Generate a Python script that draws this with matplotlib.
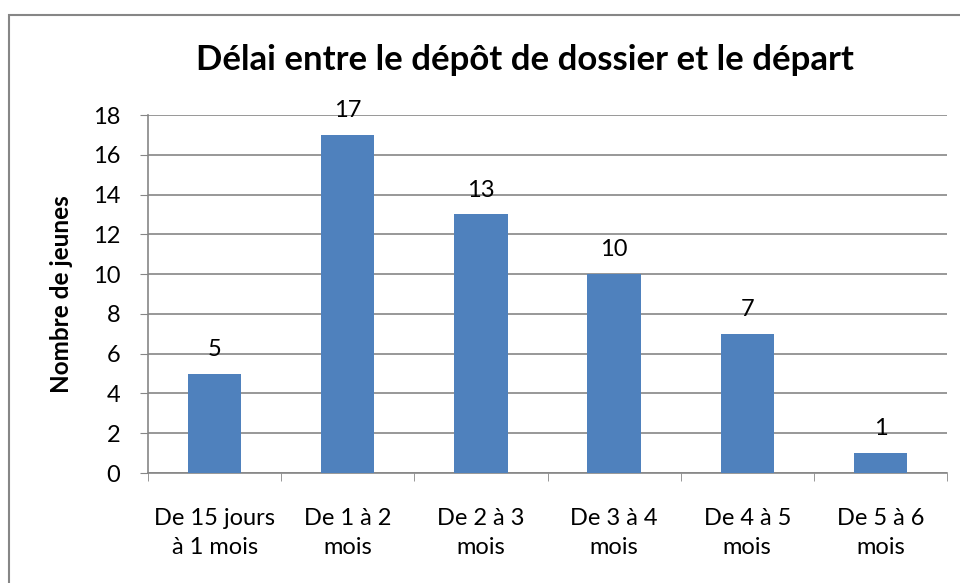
import numpy as np
import matplotlib.pyplot as plt
from matplotlib.patches import Rectangle

categories = ["De 15 jours\nà 1 mois", "De 1 à 2\nmois", "De 2 à 3\nmois",
              "De 3 à 4\nmois", "De 4 à 5\nmois", "De 5 à 6\nmois"]
values = [5, 17, 13, 10, 7, 1]
yticks = [0, 2, 4, 6, 8, 10, 12, 14, 16, 18]

plt.rcParams['font.family'] = ['Lato', 'DejaVu Sans']
bar_color = '#4F81BD'
grid_color = '#868686'

fig = plt.figure(figsize=(9.6, 5.83), dpi=100)
# chart frame (right and bottom edges fall outside the picture)
fig.patches.append(Rectangle((9 / 960, -0.05), 1.0, 1.05 - 15 / 583,
                             transform=fig.transFigure, fill=False,
                             edgecolor=grid_color, linewidth=1.5))

ax = fig.add_axes([148 / 960, 110 / 583, 799 / 960, 358 / 583])
x = np.arange(len(values))
ax.bar(x, values, width=0.4, color=bar_color, zorder=3)
for xi, v in zip(x, values):
    ax.annotate(str(v), (xi, v), xytext=(0, 10), textcoords='offset points',
                ha='center', va='bottom', fontsize=17)

ax.set_xlim(-0.5, len(values) - 0.5)
ax.set_ylim(0, 18)
ax.set_yticks(yticks)
ax.tick_params(axis='y', labelsize=17, length=6, color=grid_color, pad=14)
ax.yaxis.grid(True, color=grid_color, linewidth=1.2, zorder=0)

ax.set_xticks(x)
ax.set_xticklabels(categories, fontsize=17, linespacing=1.5)
ax.tick_params(axis='x', length=0, pad=25)
ax.set_xticks(np.arange(len(values) + 1) - 0.5, minor=True)
ax.tick_params(axis='x', which='minor', length=6, color=grid_color)

for s in ['top', 'right']:
    ax.spines[s].set_visible(False)
for s in ['left', 'bottom']:
    ax.spines[s].set_color(grid_color)
    ax.spines[s].set_linewidth(1.2)

ax.set_ylabel("Nombre de jeunes", fontsize=17.5, fontweight='bold', labelpad=14)
fig.text(525 / 960, 1 - 60 / 583, "Délai entre le dépôt de dossier et le départ",
         ha='center', va='center', fontsize=25, fontweight='bold')

fig.savefig("out.png", dpi=100)
